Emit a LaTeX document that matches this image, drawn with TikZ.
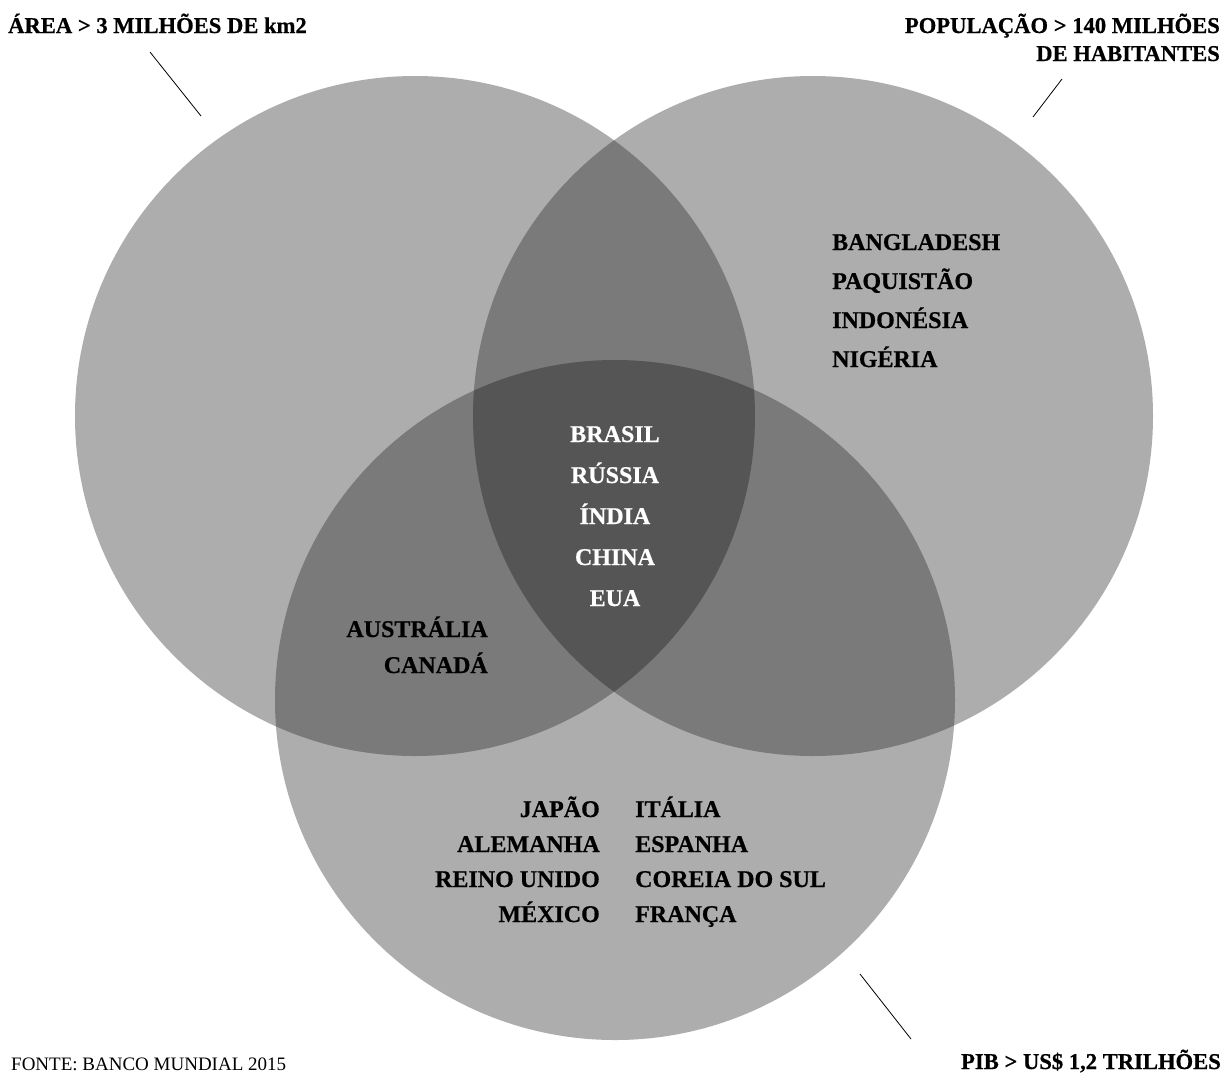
\documentclass[tikz,border=0pt]{standalone}
\usepackage{fontspec}
\setmainfont{Liberation Serif}[BoldFeatures={FakeBold=0.6}]
\definecolor{vennOne}{HTML}{ADADAD}
\definecolor{vennTwo}{HTML}{7A7A7A}
\definecolor{vennThree}{HTML}{555555}
\begin{document}
\begin{tikzpicture}[x=1pt,y=-1pt,
  lbl/.style={inner sep=0pt, text=black, font=\bfseries\fontsize{24}{28}\selectfont},
  hlbl/.style={lbl, font=\bfseries\fontsize{22.6}{27}\selectfont},
  wlbl/.style={lbl, text=white},
  src/.style={inner sep=0pt, text=black, font=\fontsize{19}{23}\selectfont},
  leader/.style={draw=black, line width=0.8pt}]
\useasboundingbox (0,0) rectangle (1232,1072);
\fill[white] (0,0) rectangle (1232,1072);
\coordinate (cA) at (415,416);
\coordinate (cB) at (813,416);
\coordinate (cC) at (615,700);
% single regions
\fill[vennOne] (cA) circle[radius=340pt];
\fill[vennOne] (cB) circle[radius=340pt];
\fill[vennOne] (cC) circle[radius=340pt];
% pairwise overlaps
\begin{scope}
  \clip (cA) circle[radius=340pt];
  \fill[vennTwo] (cB) circle[radius=340pt];
  \fill[vennTwo] (cC) circle[radius=340pt];
\end{scope}
\begin{scope}
  \clip (cB) circle[radius=340pt];
  \fill[vennTwo] (cC) circle[radius=340pt];
\end{scope}
% triple overlap
\begin{scope}
  \clip (cA) circle[radius=340pt];
  \clip (cB) circle[radius=340pt];
  \fill[vennThree] (cC) circle[radius=340pt];
\end{scope}
% headings
\node[hlbl, anchor=base west] (hA) at (8,33) {ÁREA > 3 MILHÕES DE km2};
\node[hlbl, anchor=base east] (hB1) at (1220,33) {POPULAÇÃO > 140 MILHÕES};
\node[hlbl, anchor=base east] (hB2) at (1220,61) {DE HABITANTES};
\node[hlbl, anchor=base east] (hC) at (1221,1069) {PIB > US\$ 1,2 TRILHÕES};
\node[src, anchor=base west] (fonte) at (11,1070) {FONTE: BANCO MUNDIAL 2015};
% leader lines
\coordinate (la1) at (150,52);  \coordinate (la2) at (201,116);
\coordinate (lb1) at (1062,79); \coordinate (lb2) at (1033,117);
\coordinate (lc1) at (860,974); \coordinate (lc2) at (911,1039);
\draw[leader] (la1) -- (la2);
\draw[leader] (lb1) -- (lb2);
\draw[leader] (lc1) -- (lc2);
% population only
\node[lbl, anchor=base west] (p1) at (832,250) {BANGLADESH};
\node[lbl, anchor=base west] (p2) at (832,289) {PAQUISTÃO};
\node[lbl, anchor=base west] (p3) at (832,328) {INDONÉSIA};
\node[lbl, anchor=base west] (p4) at (832,367) {NIGÉRIA};
% all three
\node[wlbl, anchor=base] (t1) at (615,442) {BRASIL};
\node[wlbl, anchor=base] (t2) at (615,483) {RÚSSIA};
\node[wlbl, anchor=base] (t3) at (615,524) {ÍNDIA};
\node[wlbl, anchor=base] (t4) at (615,565) {CHINA};
\node[wlbl, anchor=base] (t5) at (615,606) {EUA};
% area + PIB
\node[lbl, anchor=base east] (ac1) at (488,637) {AUSTRÁLIA};
\node[lbl, anchor=base east] (ac2) at (488,673) {CANADÁ};
% PIB only
\node[lbl, anchor=base east] (g1) at (600,817) {JAPÃO};
\node[lbl, anchor=base east] (g2) at (600,852) {ALEMANHA};
\node[lbl, anchor=base east] (g3) at (600,887) {REINO UNIDO};
\node[lbl, anchor=base east] (g4) at (600,922) {MÉXICO};
\node[lbl, anchor=base west] (g5) at (635,817) {ITÁLIA};
\node[lbl, anchor=base west] (g6) at (635,852) {ESPANHA};
\node[lbl, anchor=base west] (g7) at (635,887) {COREIA DO SUL};
\node[lbl, anchor=base west] (g8) at (635,922) {FRANÇA};
\end{tikzpicture}
\end{document}
